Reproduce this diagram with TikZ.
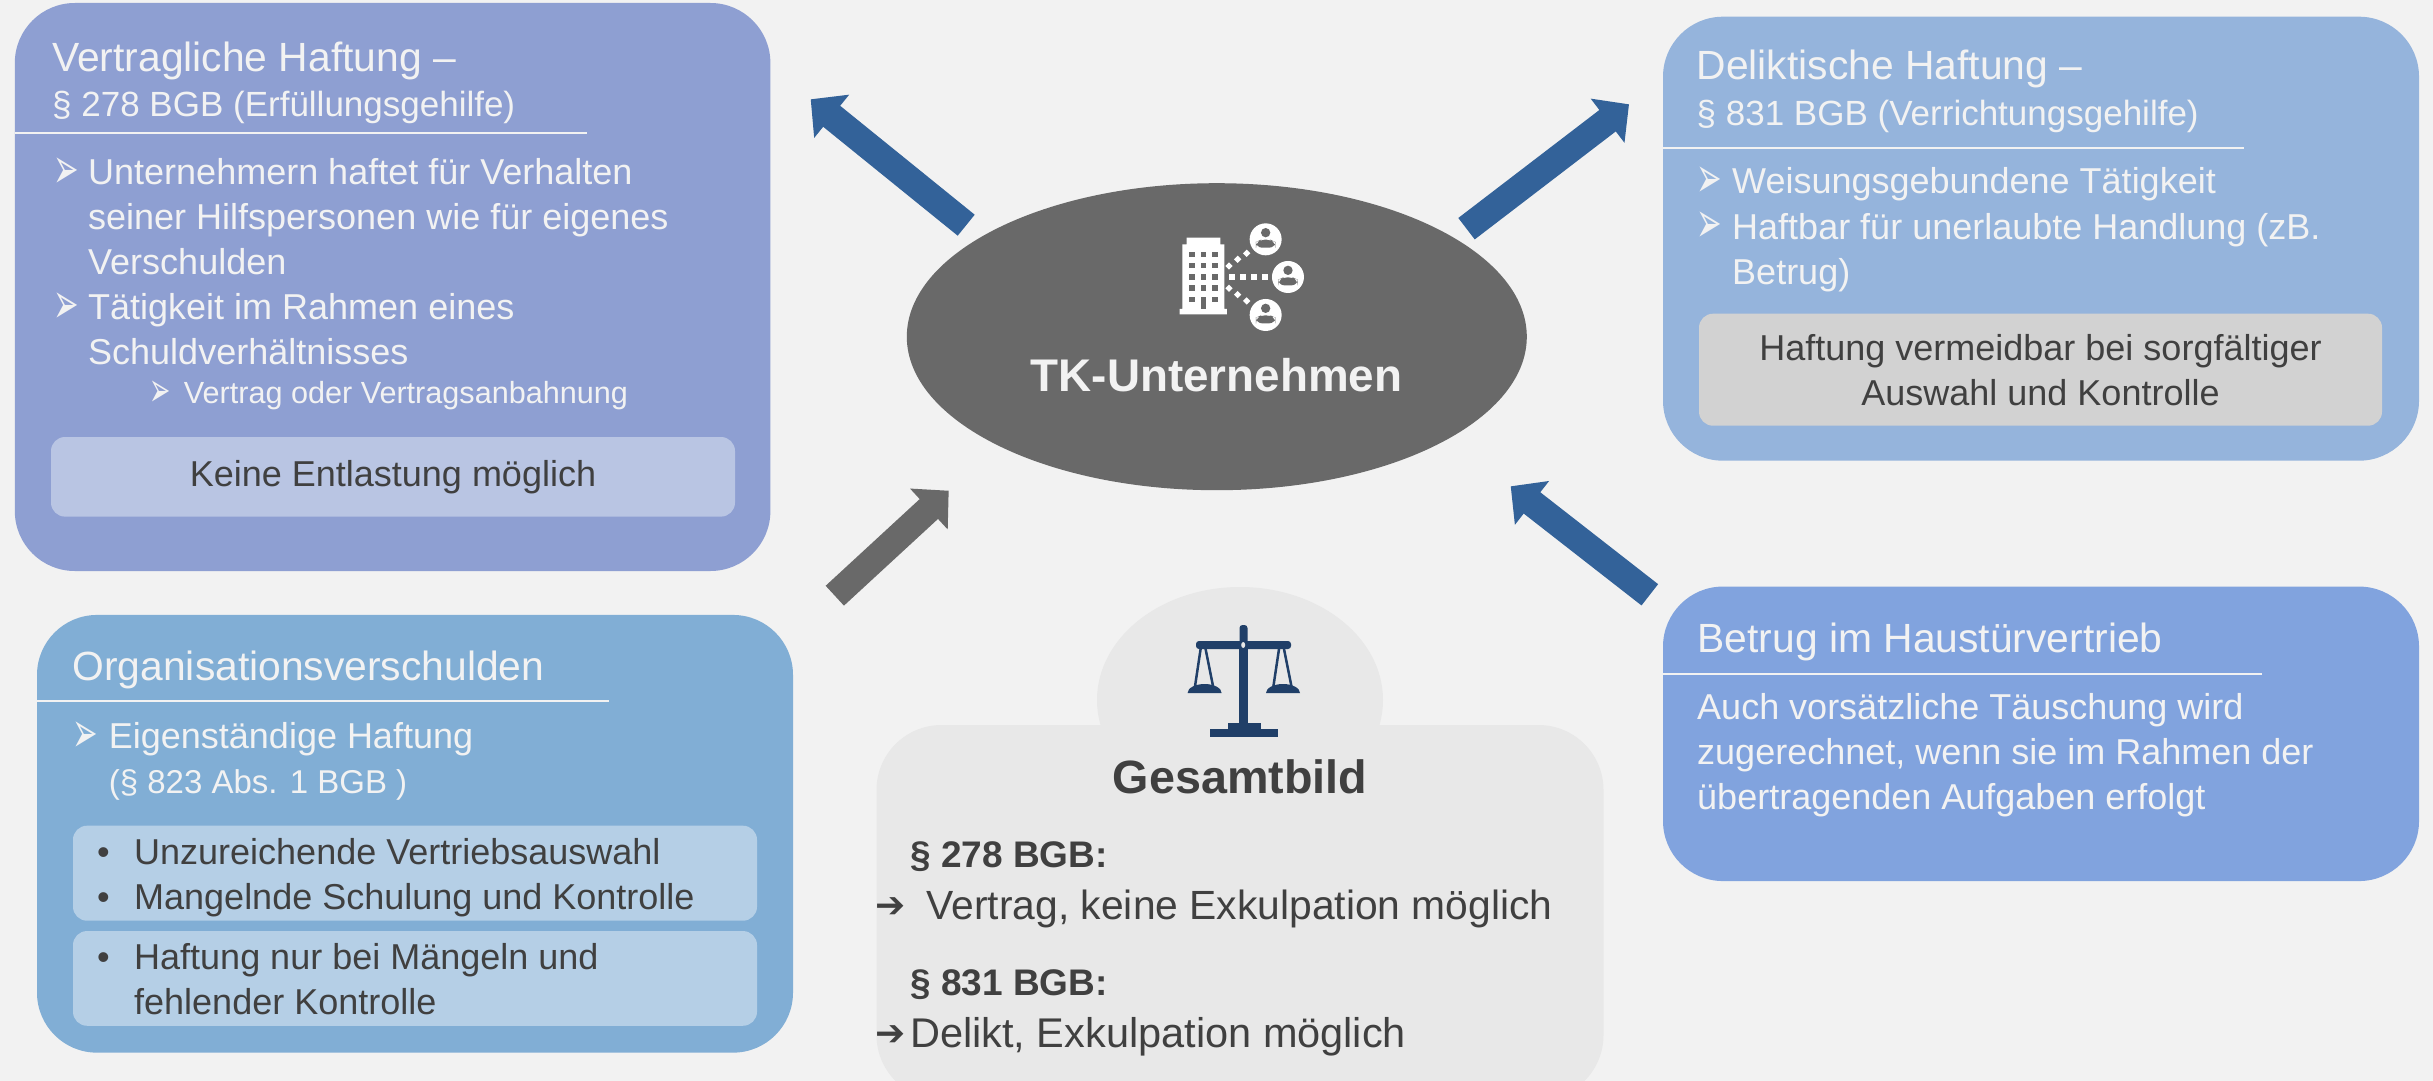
\documentclass[tikz,border=0pt]{standalone}
\usepackage{fontspec}
\usepackage{graphicx}
\setmainfont{Liberation Sans}
\newfontfamily\symfont{DejaVu Sans}
\usetikzlibrary{positioning,arrows.meta,shapes.geometric}
\definecolor{bgcol}{HTML}{F2F2F2}
\definecolor{vertragcol}{HTML}{8E9FD2}
\definecolor{vertraginner}{HTML}{B9C5E3}
\definecolor{deliktcol}{HTML}{95B4DC}
\definecolor{deliktinner}{HTML}{D2D2D2}
\definecolor{orgcol}{HTML}{81AED5}
\definecolor{orginner}{HTML}{B5CFE6}
\definecolor{betrugcol}{HTML}{81A3DE}
\definecolor{tkcol}{HTML}{696969}
\definecolor{gesamtcol}{HTML}{E8E8E8}
\definecolor{arrowblue}{HTML}{336299}
\definecolor{scalecol}{HTML}{203F68}
\definecolor{darktext}{HTML}{404040}
\definecolor{lighttext}{HTML}{F2F2F2}
\newcommand{\tickmark}{\scalebox{.85}[1.6]{➢}}
\begin{document}
\begin{tikzpicture}[x=1pt,y=-1pt]
	\tikzstyle{panel} = [rectangle,rounded corners=60pt,inner sep=0pt,outer sep=0pt]
	\tikzstyle{inner} = [rectangle,rounded corners=14pt,inner sep=0pt,outer sep=0pt,text=darktext,align=center,font=\fontsize{36}{45}\selectfont]
	\tikzstyle{rulew} = [draw=lighttext,line width=2pt]
	\tikzstyle{head} = [anchor=base west,inner sep=0pt,text=lighttext,font=\fontsize{40.8}{45}\selectfont]
	\tikzstyle{subhead} = [anchor=base west,inner sep=0pt,text=lighttext,font=\fontsize{35}{45}\selectfont]
	\tikzstyle{body} = [anchor=base west,inner sep=0pt,text=lighttext,align=left,font=\fontsize{36}{45}\selectfont]
	\tikzstyle{dark} = [anchor=base west,inner sep=0pt,text=darktext,align=left,font=\fontsize{36}{45}\selectfont]
	\tikzstyle{tick} = [anchor=base west,inner sep=0pt,text=lighttext,font=\symfont\fontsize{36}{40}\selectfont]
	\tikzstyle{dot} = [anchor=base west,inner sep=0pt,text=darktext,font=\fontsize{36}{45}\selectfont]
	\tikzstyle{bold} = [anchor=base west,inner sep=0pt,text=darktext,font=\bfseries\fontsize{37}{45}\selectfont]
	\tikzstyle{plain} = [anchor=base west,inner sep=0pt,text=darktext,font=\fontsize{40.8}{45}\selectfont]
	\tikzstyle{blockblue} = [draw=arrowblue,line width=27pt,-{Triangle[length=27pt,width=54pt,fill=arrowblue]}]
	\tikzstyle{blockgray} = [draw=tkcol,line width=27pt,-{Triangle[length=27pt,width=54pt,fill=tkcol]}]

	\path[use as bounding box,fill=bgcol] (0,0) rectangle (2433,1081);

	\node[panel,fill=vertragcol,minimum width=755.6pt,minimum height=568pt] (vertrag) at (392.6,287) {};
	\draw[rulew] (vertrag.west|-0,132.8) -- (586.7,132.8);
	\node[head] (vertragtitle) at (52,71) {Vertragliche Haftung –};
	\node[subhead] (vertragsub) at (52,116) {§ 278 BGB (Erfüllungsgehilfe)};
	\node[body] (vertragone) at (88,274) {Unternehmern haftet für Verhalten\\seiner Hilfspersonen wie für eigenes\\Verschulden};
	\node[body] (vertragtwo) at (88,364.5) {Tätigkeit im Rahmen eines\\Schuldverhältnisses};
	\node[body,font=\fontsize{30.6}{40}\selectfont] (vertragthree) at (183.7,403) {Vertrag oder Vertragsanbahnung};
	\node[tick] at (53,188) {\tickmark};
	\node[tick] at (53,323.5) {\tickmark};
	\node[tick,font=\symfont\fontsize{30}{40}\selectfont] at (149,406) {\tickmark};
	\node[inner,fill=vertraginner,minimum width=684pt,minimum height=79.6pt] (keine) at (393,476.8) {Keine Entlastung möglich};

	\node[panel,fill=deliktcol,minimum width=756pt,minimum height=444pt] (delikt) at (2041,238.7) {};
	\draw[rulew] (delikt.west|-0,148.3) -- (2244,148.3);
	\node[head] (delikttitle) at (1696.5,79) {Deliktische Haftung –};
	\node[subhead] (deliktsub) at (1696.5,125) {§ 831 BGB (Verrichtungsgehilfe)};
	\node[body] (deliktone) at (1732,193) {Weisungsgebundene Tätigkeit};
	\node[body] (delikttwo) at (1732,284) {Haftbar für unerlaubte Handlung (zB.\\Betrug)};
	\node[tick] at (1696,197) {\tickmark};
	\node[tick] at (1696,242.5) {\tickmark};
	\node[inner,fill=deliktinner,minimum width=683pt,minimum height=112pt] (vermeidbar) at (2040.5,369.7) {Haftung vermeidbar bei sorgfältiger\\Auswahl und Kontrolle};

	\node[panel,fill=orgcol,minimum width=756pt,minimum height=437.7pt] (org) at (415,833.8) {};
	\draw[rulew] (org.west|-0,700.7) -- (608.7,700.7);
	\node[head] (orgtitle) at (72.4,680) {Organisationsverschulden};
	\node[body] (orgone) at (108.7,793) {Eigenständige Haftung\\{\fontsize{33}{45}\selectfont(§ 823 Abs. 1 BGB )}};
	\node[tick] at (72,752) {\tickmark};
	\node[inner,fill=orginner,minimum width=684pt,minimum height=95pt] (orgmid) at (415,873.2) {};
	\node[inner,fill=orginner,minimum width=684pt,minimum height=94.7pt] (orglow) at (415,978.4) {};
	\node[dark] (orgdotone) at (134,909) {Unzureichende Vertriebsauswahl\\Mangelnde Schulung und Kontrolle};
	\node[dark] (orgdottwo) at (134,1014) {Haftung nur bei Mängeln und\\fehlender Kontrolle};
	\node[dot] at (97,864) {•};
	\node[dot] at (97,909) {•};
	\node[dot] at (97,969) {•};

	\node[panel,fill=betrugcol,minimum width=756pt,minimum height=294.5pt] (betrug) at (2041,733.8) {};
	\draw[rulew] (betrug.west|-0,673.5) -- (2262,673.5);
	\node[head] (betrugtitle) at (1697.5,652) {Betrug im Haustürvertrieb};
	\node[body] (betrugtext) at (1697,809) {Auch vorsätzliche Täuschung wird\\zugerechnet, wenn sie im Rahmen der\\übertragenden Aufgaben erfolgt};

	\begin{scope}
		\clip (0,0) rectangle (2433,1081);
		\node[ellipse,fill=gesamtcol,minimum width=286pt,minimum height=226pt,inner sep=0pt] (kuppe) at (1240,700) {};
		\node[panel,rounded corners=65pt,fill=gesamtcol,minimum width=727pt,minimum height=375pt] (gesamt) at (1240,912.5) {};
	\end{scope}

	\fill[scalecol,rounded corners=3pt] (1239.5,625) rectangle (1247.5,645);
	\fill[scalecol,rounded corners=3pt] (1196,641) rectangle (1291,649);
	\fill[scalecol] (1238.5,649) rectangle (1248,724);
	\fill[scalecol] (1227.5,723) rectangle (1261,730);
	\fill[scalecol] (1210,729) rectangle (1278,737);
	\foreach \panx in {1204.6,1283}{
		\fill[scalecol] (\panx-17,693) arc[start angle=180,end angle=360,x radius=17,y radius=9] -- cycle;
		\draw[scalecol,line width=2.5pt] (\panx-4,649) -- (\panx-10,689) (\panx+1,649) -- (\panx+9,689);
	}
	\fill[gesamtcol] (1243.2,645) circle[x radius=2,y radius=3];

	\node[bold,anchor=base,font=\bfseries\fontsize{46.7}{45}\selectfont] (gesamttitle) at (1240,793) {Gesamtbild};
	\node[bold] (parone) at (910,867) {§ 278 BGB:};
	\node[plain] (partext) at (926.5,919) {Vertrag, keine Exkulpation möglich};
	\node[bold] (partwo) at (910,995) {§ 831 BGB:};
	\node[plain,font=\fontsize{41.5}{45}\selectfont] (partexttwo) at (910,1047) {Delikt, Exkulpation möglich};
	\node[tick,text=darktext,font=\symfont\fontsize{36}{40}\selectfont] at (875,917) {➔};
	\node[tick,text=darktext,font=\symfont\fontsize{36}{40}\selectfont] at (875,1045) {➔};

	\node[ellipse,fill=tkcol,minimum width=620pt,minimum height=307pt,inner sep=0pt] (tk) at (1216.8,336.7) {};
	\node[anchor=base,inner sep=0pt,text=lighttext,font=\bfseries\fontsize{45.8}{45}\selectfont] (tklabel) at (1216.5,391) {TK-Unternehmen};

	\begin{scope}[shift={(1050,160)},x=0.3333pt,y=-0.3333pt]
		\fill[white] (397,253) rectangle (523,447) (410,233) rectangle (511,253) (389,447) rectangle (531,463);
		\foreach \winy in {276,309,343,376,410}{
			\foreach \winx in {418,452,486}{
				\fill[tkcol] (\winx,\winy) rectangle ++(17,16);
			}
		}
		\fill[tkcol] (452,410) rectangle (469,447);
		\foreach \px/\py in {647/238,714/351,647/465}{
			\fill[white] (\px,\py) circle[radius=48];
			\fill[tkcol] (\px,\py-20) circle[radius=14];
			\fill[tkcol,rounded corners=6pt] (\px-29,\py+25) -- (\px-29,\py+8) -- (\px-14,\py+1) -- (\px+14,\py+1) -- (\px+29,\py+8) -- (\px+29,\py+25) -- cycle;
		}
		\foreach \qx in {537,571,604,637}{
			\fill[white] (\qx,343) rectangle ++(17,16);
		}
		\foreach \qx/\qy in {537/318,563/298,590/280,537/385,563/404,590/423}{
			\fill[white] (\qx-11,\qy) -- (\qx,\qy-11) -- (\qx+11,\qy) -- (\qx,\qy+11) -- cycle;
		}
	\end{scope}

	\coordinate (tailone) at (966.2,225.2);
	\coordinate (tipone) at (810.7,99.3);
	\coordinate (tailtwo) at (1466.5,228.7);
	\coordinate (tiptwo) at (1629,104.3);
	\coordinate (tailthree) at (834.8,595.7);
	\coordinate (tipthree) at (948.7,490.7);
	\coordinate (tailfour) at (1649.8,594.8);
	\coordinate (tipfour) at (1510.7,486.3);
	\draw[blockblue] (tailone) -- (tipone);
	\draw[blockblue] (tailtwo) -- (tiptwo);
	\draw[blockgray] (tailthree) -- (tipthree);
	\draw[blockblue] (tailfour) -- (tipfour);
\end{tikzpicture}
\end{document}
